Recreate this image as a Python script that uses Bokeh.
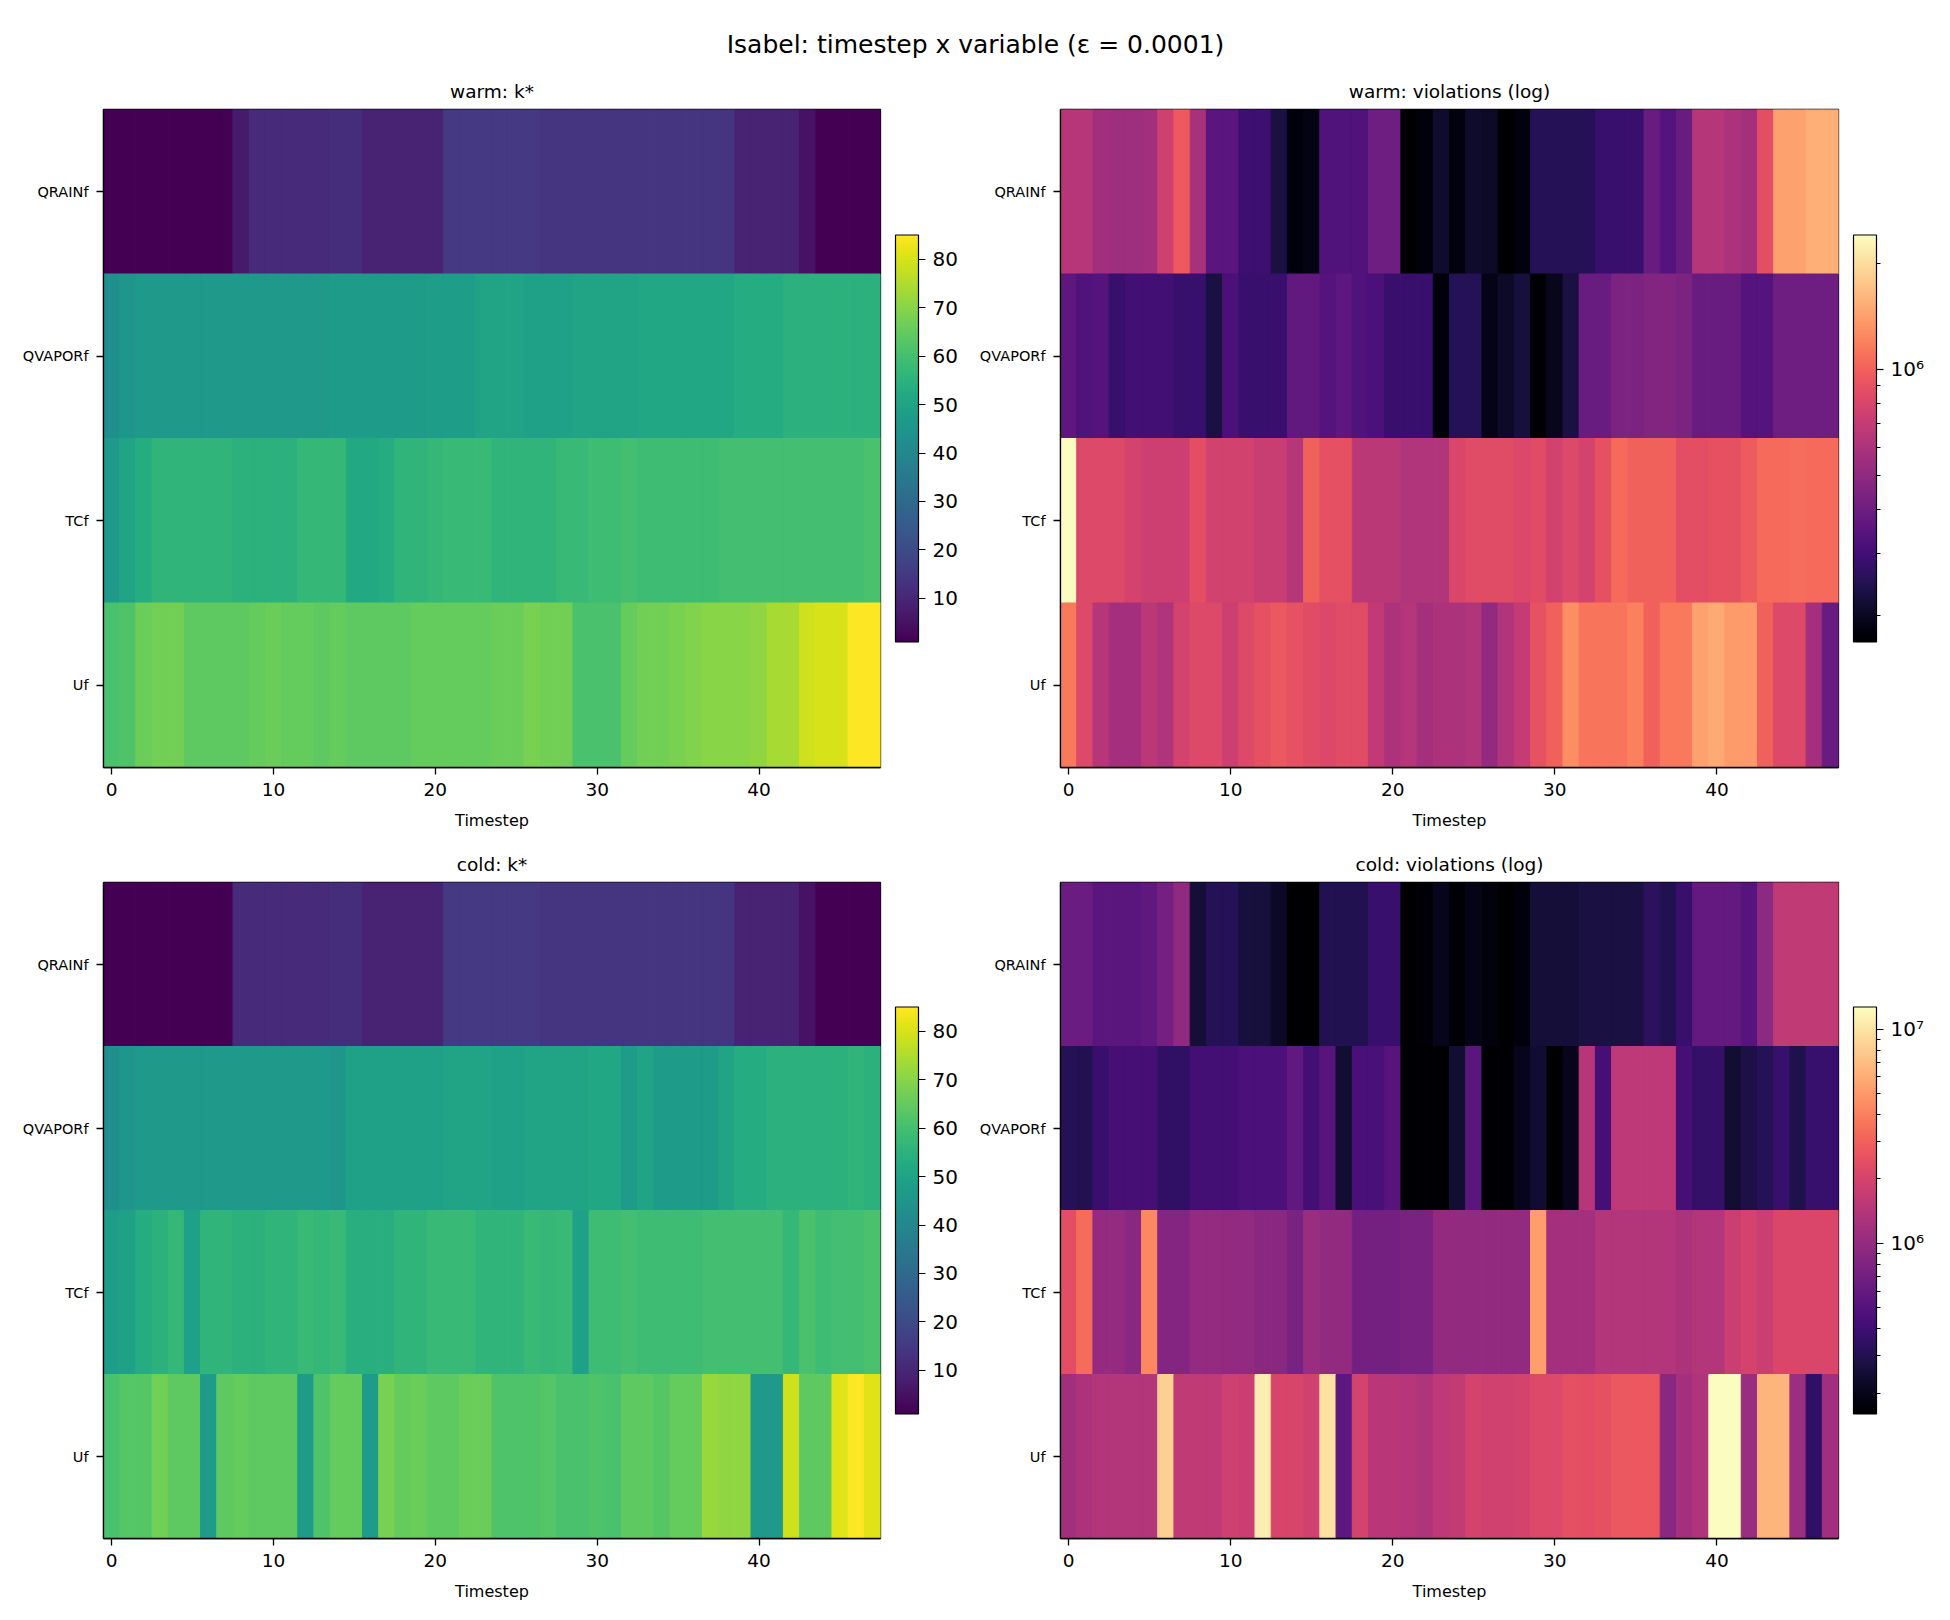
from bokeh.plotting import figure
from bokeh.models import (ColumnDataSource, LinearColorMapper, LogColorMapper, ColorBar,
                          FixedTicker, Range1d, FactorRange)
from bokeh.layouts import column, row
from bokeh.palettes import Viridis256, Magma256
from bokeh.embed import file_html
from bokeh.resources import INLINE

SUPTITLE = "Isabel: timestep x variable (\u03b5 = 0.0001)"
variables = ["QRAINf", "QVAPORf", "TCf", "Uf"]
timesteps = list(range(48))
x_ticks = [0, 10, 20, 30, 40]

# ---- warm: k* ----
warm_k_QRAINf = [1, 1, 1, 1, 1, 1, 1, 1, 7, 11, 11, 11, 11, 11, 12, 12, 9, 9, 9, 9, 9, 15, 15, 15,
                 15, 15, 15, 14, 14, 14, 14, 14, 14, 14, 14, 14, 14, 14, 14, 9, 9, 9, 9, 5, 1, 1, 1, 1]
warm_k_QVAPORf = [43, 45, 46, 46, 46, 46, 46, 46, 46, 46, 46, 46, 46, 46, 47, 47, 47, 47, 47, 47, 48, 48, 48, 50,
                  50, 50, 49, 49, 49, 50, 50, 50, 50, 51, 51, 51, 51, 51, 51, 53, 53, 53, 55, 55, 55, 55, 55, 55]
warm_k_TCf = [46, 50, 53, 56, 56, 56, 56, 56, 55, 55, 55, 55, 57, 57, 57, 52, 52, 53, 56, 56, 57, 58, 58, 58,
              56, 56, 56, 56, 58, 58, 59, 59, 60, 59, 59, 59, 59, 59, 60, 60, 60, 60, 60, 60, 60, 60, 60, 61]
warm_k_Uf = [61, 62, 66, 67, 67, 64, 64, 64, 64, 65, 66, 65, 65, 64, 65, 64, 64, 64, 64, 65, 65, 65, 65, 65,
             66, 66, 68, 67, 67, 61, 61, 61, 65, 67, 67, 68, 69, 70, 70, 70, 71, 74, 74, 79, 80, 80, 85, 85]

# ---- cold: k* ----
cold_k_QRAINf = [1, 1, 1, 1, 1, 1, 1, 1, 11, 11, 11, 11, 11, 11, 12, 12, 9, 9, 9, 9, 9, 15, 15, 15,
                 15, 15, 15, 14, 14, 14, 14, 14, 14, 14, 14, 14, 14, 14, 14, 9, 9, 9, 9, 5, 1, 1, 1, 1]
cold_k_QVAPORf = [43, 45, 46, 46, 46, 46, 46, 46, 46, 46, 46, 46, 46, 46, 45, 49, 49, 49, 49, 49, 49, 50, 50, 50,
                  49, 49, 50, 50, 50, 50, 51, 51, 47, 50, 47, 47, 47, 47, 50, 53, 53, 55, 55, 55, 55, 55, 56, 55]
cold_k_TCf = [48, 49, 53, 55, 57, 49, 56, 56, 55, 55, 56, 56, 58, 57, 58, 54, 54, 54, 56, 56, 58, 58, 58, 56,
              56, 56, 58, 57, 58, 49, 59, 59, 60, 59, 59, 59, 59, 60, 60, 60, 60, 60, 57, 61, 59, 60, 60, 61]
cold_k_Uf = [61, 63, 63, 67, 64, 64, 47, 64, 65, 64, 64, 64, 47, 62, 65, 65, 47, 68, 65, 66, 64, 64, 66, 66,
             62, 62, 62, 63, 61, 61, 62, 61, 64, 64, 63, 65, 65, 72, 71, 71, 46, 46, 79, 64, 64, 81, 85, 81]

# ---- warm: violations ----
warm_v_QRAINf = [6.4e5, 6.4e5, 5.6e5, 5.5e5, 5.5e5, 5.6e5, 7.5e5, 9.5e5, 5.8e5, 3.5e5, 3.5e5, 2.9e5,
                 2.9e5, 2.3e5, 1.77e5, 1.85e5, 3.3e5, 3.3e5, 3.3e5, 4.0e5, 4.0e5, 1.68e5, 1.77e5, 2.1e5,
                 1.8e5, 2.1e5, 2.05e5, 1.68e5, 1.8e5, 2.5e5, 2.5e5, 2.5e5, 2.5e5, 2.85e5, 2.85e5, 2.85e5,
                 3.9e5, 3.4e5, 3.9e5, 6.3e5, 6.3e5, 6.0e5, 5.7e5, 8.7e5, 1.42e6, 1.42e6, 1.55e6, 1.55e6]
warm_v_QVAPORf = [3.6e5, 3.3e5, 3.4e5, 2.85e5, 3.0e5, 3.0e5, 3.0e5, 2.8e5, 2.85e5, 2.3e5, 3.2e5, 2.85e5,
                  2.85e5, 2.85e5, 3.7e5, 3.7e5, 3.4e5, 3.6e5, 3.3e5, 3.2e5, 2.85e5, 2.85e5, 2.85e5, 1.77e5,
                  2.5e5, 2.5e5, 1.9e5, 2.05e5, 2.25e5, 1.7e5, 1.95e5, 2.3e5, 3.9e5, 3.9e5, 4.4e5, 4.4e5,
                  4.6e5, 4.6e5, 4.4e5, 3.9e5, 3.9e5, 3.9e5, 3.4e5, 3.4e5, 4.0e5, 4.0e5, 4.0e5, 4.0e5]
warm_v_TCf = [2.41e6, 8.3e5, 8.3e5, 8.3e5, 7.8e5, 7.4e5, 7.4e5, 7.4e5, 8.7e5, 7.6e5, 7.6e5, 7.6e5,
              7.2e5, 7.2e5, 6.3e5, 1.0e6, 8.8e5, 8.8e5, 6.6e5, 6.6e5, 6.6e5, 6.2e5, 6.2e5, 6.2e5,
              8.0e5, 8.5e5, 8.5e5, 8.5e5, 8.2e5, 8.5e5, 7.6e5, 8.3e5, 7.8e5, 8.8e5, 1.05e6, 1.0e6,
              1.0e6, 1.0e6, 8.7e5, 8.7e5, 8.9e5, 8.9e5, 9.6e5, 1.05e6, 1.05e6, 1.08e6, 1.05e6, 1.05e6]
warm_v_Uf = [1.15e6, 8.3e5, 6.4e5, 5.7e5, 5.7e5, 6.6e5, 6.1e5, 7.8e5, 8.3e5, 8.3e5, 7.4e5, 8.3e5,
             8.9e5, 9.4e5, 9.0e5, 8.5e5, 8.2e5, 8.5e5, 8.5e5, 6.9e5, 6.0e5, 6.3e5, 5.7e5, 6.0e5,
             6.0e5, 6.2e5, 5.1e5, 6.2e5, 7.0e5, 9.0e5, 1.0e6, 1.28e6, 1.12e6, 1.12e6, 1.12e6, 1.2e6,
             1.0e6, 1.15e6, 1.15e6, 1.42e6, 1.5e6, 1.38e6, 1.38e6, 1.0e6, 8.3e5, 8.3e5, 5.7e5, 3.9e5]

# ---- cold: violations ----
cold_v_QRAINf = [6.4e5, 6.4e5, 5.4e5, 5.4e5, 5.4e5, 5.7e5, 7.1e5, 9.6e5, 2.5e5, 3.1e5, 3.1e5, 2.6e5,
                 2.6e5, 2.2e5, 1.6e5, 1.6e5, 3.0e5, 3.0e5, 3.0e5, 3.8e5, 3.8e5, 1.6e5, 1.7e5, 2.0e5,
                 1.7e5, 1.95e5, 1.8e5, 1.6e5, 1.75e5, 2.5e5, 2.5e5, 2.5e5, 2.7e5, 2.7e5, 2.7e5, 2.7e5,
                 3.3e5, 3.0e5, 3.8e5, 5.9e5, 5.9e5, 5.9e5, 5.2e5, 9.2e5, 1.6e6, 1.6e6, 1.6e6, 1.6e6]
cold_v_QVAPORf = [3.1e5, 3.0e5, 3.8e5, 4.3e5, 4.3e5, 4.3e5, 3.5e5, 3.5e5, 4.2e5, 4.2e5, 4.2e5, 4.6e5,
                  4.6e5, 4.6e5, 5.8e5, 4.2e5, 5.2e5, 2.45e5, 4.5e5, 4.5e5, 5.2e5, 1.65e5, 1.65e5, 1.6e5,
                  2.45e5, 5.4e5, 1.65e5, 1.65e5, 2.0e5, 2.4e5, 1.6e5, 2.0e5, 1.43e6, 4.3e5, 1.55e6, 1.55e6,
                  1.55e6, 1.55e6, 4.3e5, 3.6e5, 3.6e5, 2.45e5, 2.8e5, 3.1e5, 3.7e5, 2.9e5, 3.7e5, 3.7e5]
cold_v_TCf = [2.4e6, 3.3e6, 1.0e6, 1.0e6, 9.0e5, 4.3e6, 8.5e5, 8.5e5, 1.0e6, 1.0e6, 9.7e5, 9.7e5,
              9.0e5, 9.0e5, 7.7e5, 1.05e6, 9.8e5, 9.8e5, 7.1e5, 7.1e5, 7.1e5, 7.5e5, 7.5e5, 9.8e5,
              9.8e5, 9.8e5, 9.8e5, 9.8e5, 9.8e5, 5.3e6, 1.2e6, 1.2e6, 1.2e6, 1.38e6, 1.38e6, 1.38e6,
              1.38e6, 1.38e6, 1.3e6, 1.4e6, 1.4e6, 1.8e6, 2.0e6, 1.75e6, 2.1e6, 2.1e6, 2.1e6, 2.1e6]
cold_v_Uf = [1.15e6, 1.3e6, 1.4e6, 1.4e6, 1.4e6, 1.4e6, 8.2e6, 1.6e6, 1.6e6, 1.6e6, 1.85e6, 1.8e6,
             1.1e7, 2.05e6, 2.05e6, 1.9e6, 9.8e6, 5.5e5, 2.0e6, 1.5e6, 1.5e6, 1.45e6, 1.35e6, 1.55e6,
             1.65e6, 2.0e6, 1.9e6, 1.9e6, 2.0e6, 2.2e6, 2.2e6, 2.5e6, 2.4e6, 2.5e6, 2.7e6, 2.7e6,
             2.7e6, 9.0e5, 1.2e6, 1.35e6, 1.27e7, 1.25e7, 1.05e6, 6.5e6, 6.5e6, 1.1e6, 3.5e5, 1.15e6]

k_range = [1, 85]
k_ticks = [10, 20, 30, 40, 50, 60, 70, 80]
warm_v_ticks = [1000000]
warm_v_minor = [200000, 300000, 400000, 500000, 600000, 700000, 800000, 900000, 2000000]
cold_v_ticks = [1000000, 10000000]
cold_v_minor = [200000, 300000, 400000, 500000, 600000, 700000, 800000, 900000,
                2000000, 3000000, 4000000, 5000000, 6000000, 7000000, 8000000, 9000000]
log_labels = {1000000: "10\u2076", 10000000: "10\u2077"}

FONT = "DejaVu Sans"


def make_panel(title, rows, log, ticks, minor, left, right, top, bottom, height):
    allv = [v for r in rows for v in r]
    if log:
        mapper = LogColorMapper(palette=Magma256, low=min(allv), high=max(allv))
    else:
        mapper = LinearColorMapper(palette=Viridis256, low=k_range[0], high=k_range[1])
    xs, ys, vs = [], [], []
    for var, r in zip(variables, rows):
        for t, v in zip(timesteps, r):
            xs.append(t)
            ys.append(var)
            vs.append(v)
    src = ColumnDataSource(dict(t=xs, var=ys, val=vs))
    p = figure(width=975, height=height, output_backend="svg", toolbar_location=None,
               x_range=Range1d(-0.5, 47.5), y_range=FactorRange(factors=variables[::-1]),
               min_border_left=left, min_border_right=right, min_border_top=top,
               min_border_bottom=bottom)
    p.rect(x="t", y="var", width=1, height=1, source=src,
           fill_color={"field": "val", "transform": mapper},
           line_color={"field": "val", "transform": mapper}, line_width=1.0)
    p.grid.visible = False
    p.outline_line_color = "black"
    p.outline_line_width = 1.3
    p.title.text = title
    p.title.align = "center"
    p.title.text_font = FONT
    p.title.text_font_size = "18.5px"
    p.title.text_font_style = "normal"
    p.title.text_color = "black"
    p.title.standoff = 15
    for ax in (p.xaxis[0], p.yaxis[0]):
        ax.axis_line_color = "black"
        ax.axis_line_width = 1.3
        ax.major_tick_line_color = "black"
        ax.major_tick_line_width = 1.3
        ax.major_tick_in = 0
        ax.major_tick_out = 7
        ax.minor_tick_line_color = None
        ax.major_label_text_color = "black"
        ax.major_label_text_font = FONT
    p.xaxis.ticker = FixedTicker(ticks=x_ticks)
    p.xaxis.major_label_text_font_size = "18.5px"
    p.xaxis.major_label_standoff = 8
    p.xaxis.axis_label = "Timestep"
    p.xaxis.axis_label_text_font = FONT
    p.xaxis.axis_label_text_font_size = "16px"
    p.xaxis.axis_label_text_font_style = "normal"
    p.xaxis.axis_label_text_color = "black"
    p.xaxis.axis_label_standoff = 12
    p.yaxis.major_label_text_font_size = "14.5px"
    p.yaxis.major_label_standoff = 8

    if log:
        ticker = FixedTicker(ticks=ticks, minor_ticks=minor)
    else:
        ticker = FixedTicker(ticks=ticks)
    cb = ColorBar(color_mapper=mapper, ticker=ticker, width=23, height=407,
                  location="center_left", margin=10, padding=15,
                  bar_line_color="black", bar_line_width=1.2,
                  major_tick_in=0, major_tick_out=7, major_tick_line_color="black",
                  major_tick_line_width=1.2,
                  minor_tick_in=0, minor_tick_out=4,
                  minor_tick_line_color="black" if log else None,
                  major_label_text_font=FONT, major_label_text_font_size="20px",
                  major_label_text_color="black", label_standoff=7,
                  background_fill_alpha=0, border_line_color=None)
    if log:
        cb.major_label_overrides = {k: log_labels[k] for k in ticks}
    p.add_layout(cb, "right")
    return p


tl = make_panel("warm: k*", [warm_k_QRAINf, warm_k_QVAPORf, warm_k_TCf, warm_k_Uf], False,
                k_ticks, None, 103, 95, 39, 73, 770)
tr = make_panel("warm: violations (log)", [warm_v_QRAINf, warm_v_QVAPORf, warm_v_TCf, warm_v_Uf], True,
                warm_v_ticks, warm_v_minor, 85, 112, 39, 73, 770)
bl = make_panel("cold: k*", [cold_k_QRAINf, cold_k_QVAPORf, cold_k_TCf, cold_k_Uf], False,
                k_ticks, None, 103, 95, 42, 82, 780)
br = make_panel("cold: violations (log)", [cold_v_QRAINf, cold_v_QVAPORf, cold_v_TCf, cold_v_Uf], True,
                cold_v_ticks, cold_v_minor, 85, 112, 42, 82, 780)

head = figure(width=1950, height=70, output_backend="svg", toolbar_location=None,
              x_range=Range1d(0, 1950), y_range=Range1d(0, 70),
              x_axis_type=None, y_axis_type=None, min_border=0)
head.outline_line_color = None
head.grid.visible = False
head.text(x=[975], y=[26], text=[SUPTITLE], text_align="center", text_baseline="middle",
          text_font={"value": FONT}, text_font_size={"value": "25px"}, text_color="black")

layout = column(head, row(tl, tr), row(bl, br))
open("out.html", "w").write(file_html(layout, INLINE))
